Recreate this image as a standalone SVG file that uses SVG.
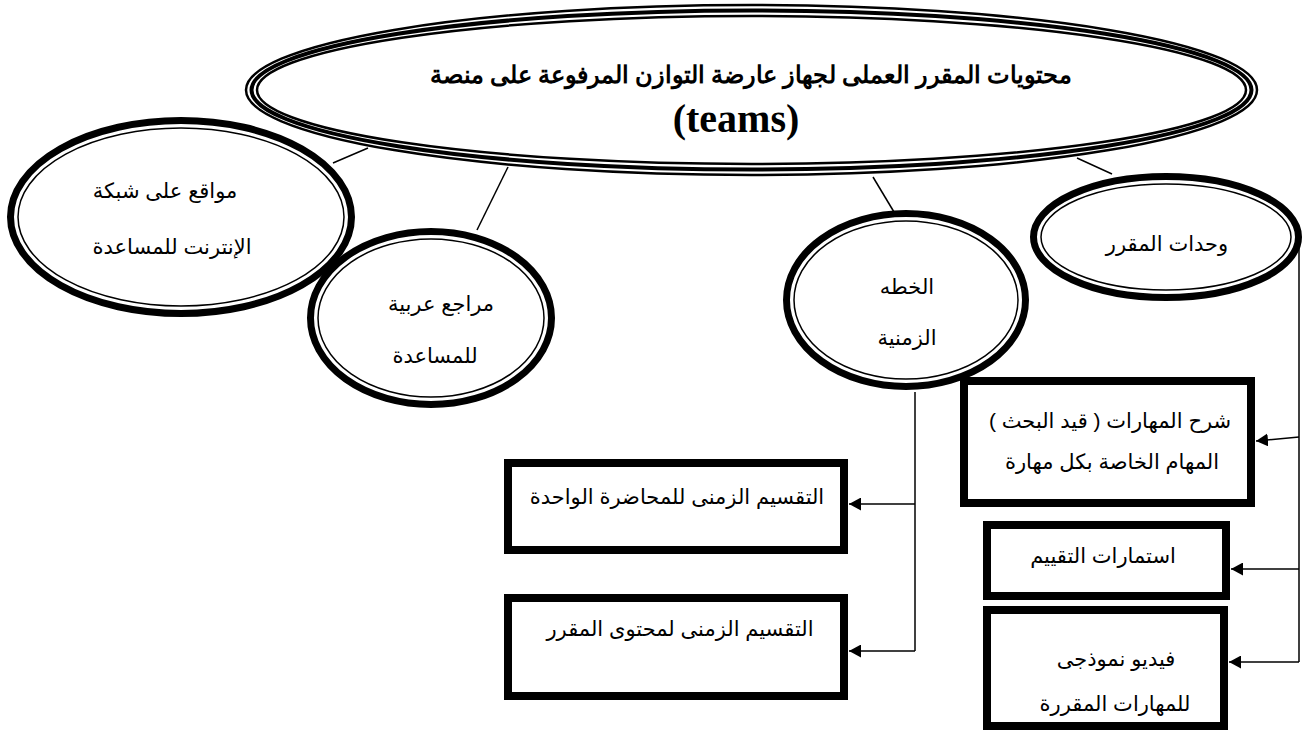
<svg xmlns="http://www.w3.org/2000/svg" width="1305" height="731" viewBox="0 0 1305 731">
<style>
.bg{fill:#fff}
.thk{fill:#fff;stroke:#000;stroke-width:7}
.thn{fill:none;stroke:#000;stroke-width:1.5}
.t1{fill:none;stroke:#000;stroke-width:2.5}
.t2{fill:#fff;stroke:#000;stroke-width:4}
.box{fill:#fff;stroke:#000;stroke-width:8}
.lbl{font-family:"Liberation Sans","DejaVu Sans",sans-serif;font-size:21px;fill:#000;text-anchor:middle;direction:rtl}
.ttl{font-family:"Liberation Serif","DejaVu Serif",serif;font-weight:bold;font-size:24px;fill:#000;text-anchor:middle;direction:rtl}
.eng{font-family:"Liberation Serif",serif;font-weight:bold;font-size:40px;fill:#000;text-anchor:middle}
.ln{stroke:#000;stroke-width:1.5;fill:none}
.ar{stroke:#000;stroke-width:1.5;fill:none;marker-end:url(#ah)}
</style>
<defs>
<marker id="ah" markerUnits="userSpaceOnUse" markerWidth="13" markerHeight="13" refX="12" refY="6.5" orient="auto">
<path d="M0,0 L12,6.5 L0,13 z" fill="#000"/>
</marker>
</defs>
<rect class="bg" x="0" y="0" width="1305" height="731"/>

<g id="connectors">
<line class="ln" x1="333" y1="163" x2="368" y2="148"/>
<line class="ln" x1="477" y1="230" x2="508" y2="167"/>
<line class="ln" x1="873" y1="177" x2="894" y2="212"/>
<line class="ln" x1="1077" y1="158" x2="1112" y2="174"/>
<line class="ln" x1="1299" y1="245" x2="1299" y2="662"/>
<line class="ar" x1="1299" y1="437" x2="1256" y2="441"/>
<line class="ar" x1="1299" y1="569" x2="1231" y2="569"/>
<line class="ar" x1="1299" y1="662" x2="1229" y2="662"/>
<line class="ln" x1="915" y1="392" x2="915" y2="651"/>
<line class="ar" x1="915" y1="504" x2="849" y2="504"/>
<line class="ar" x1="915" y1="651" x2="849" y2="651"/>
</g>

<g id="main">
<ellipse class="t1" cx="751.5" cy="90" rx="505.5" ry="85"/>
<ellipse class="t2" cx="751.5" cy="90" rx="500" ry="79.5"/>
<ellipse class="t1" cx="751.5" cy="90" rx="494.5" ry="74"/>
<text class="ttl" x="751" y="83">محتويات المقرر العملى لجهاز عارضة التوازن المرفوعة على منصة</text>
<text class="eng" x="736" y="132">(teams)</text>
</g>

<g id="websites">
<ellipse class="thk" cx="181" cy="217" rx="170.5" ry="96.5"/>
<ellipse class="thn" cx="181" cy="217" rx="163" ry="89"/>
<text class="lbl" x="165" y="198">مواقع على شبكة</text>
<text class="lbl" x="172" y="254">الإنترنت للمساعدة</text>
</g>

<g id="arabic-refs">
<ellipse class="thk" cx="431" cy="318" rx="120.5" ry="86.5"/>
<ellipse class="thn" cx="431" cy="318" rx="113" ry="79"/>
<text class="lbl" x="441" y="311">مراجع عربية</text>
<text class="lbl" x="435" y="363">للمساعدة</text>
</g>

<g id="timeplan">
<ellipse class="thk" cx="906" cy="300" rx="119.5" ry="86.5"/>
<ellipse class="thn" cx="906" cy="300" rx="112" ry="79"/>
<text class="lbl" x="907" y="294">الخطه</text>
<text class="lbl" x="907" y="345">الزمنية</text>
</g>

<g id="units">
<ellipse class="thk" cx="1166" cy="237" rx="132.5" ry="60.5"/>
<ellipse class="thn" cx="1166" cy="237" rx="125" ry="53"/>
<text class="lbl" x="1167" y="251">وحدات المقرر</text>
</g>

<g id="skills">
<rect class="box" x="964" y="381" width="287" height="122"/>
<text class="lbl" x="1110" y="428">شرح المهارات ( قيد البحث )</text>
<text class="lbl" x="1112" y="469">المهام الخاصة بكل مهارة</text>
</g>

<g id="forms">
<rect class="box" x="987" y="525" width="239" height="71"/>
<text class="lbl" x="1103" y="563">استمارات التقييم</text>
</g>

<g id="video">
<rect class="box" x="987" y="610" width="237" height="116"/>
<text class="lbl" x="1116" y="666">فيديو نموذجى</text>
<text class="lbl" x="1115" y="711">للمهارات المقررة</text>
</g>

<g id="lecture">
<rect class="box" x="508" y="463" width="336" height="87"/>
<text class="lbl" x="677" y="504">التقسيم الزمنى للمحاضرة الواحدة</text>
</g>

<g id="content">
<rect class="box" x="508" y="598" width="336" height="98"/>
<text class="lbl" x="680" y="636">التقسيم الزمنى لمحتوى المقرر</text>
</g>
</svg>
